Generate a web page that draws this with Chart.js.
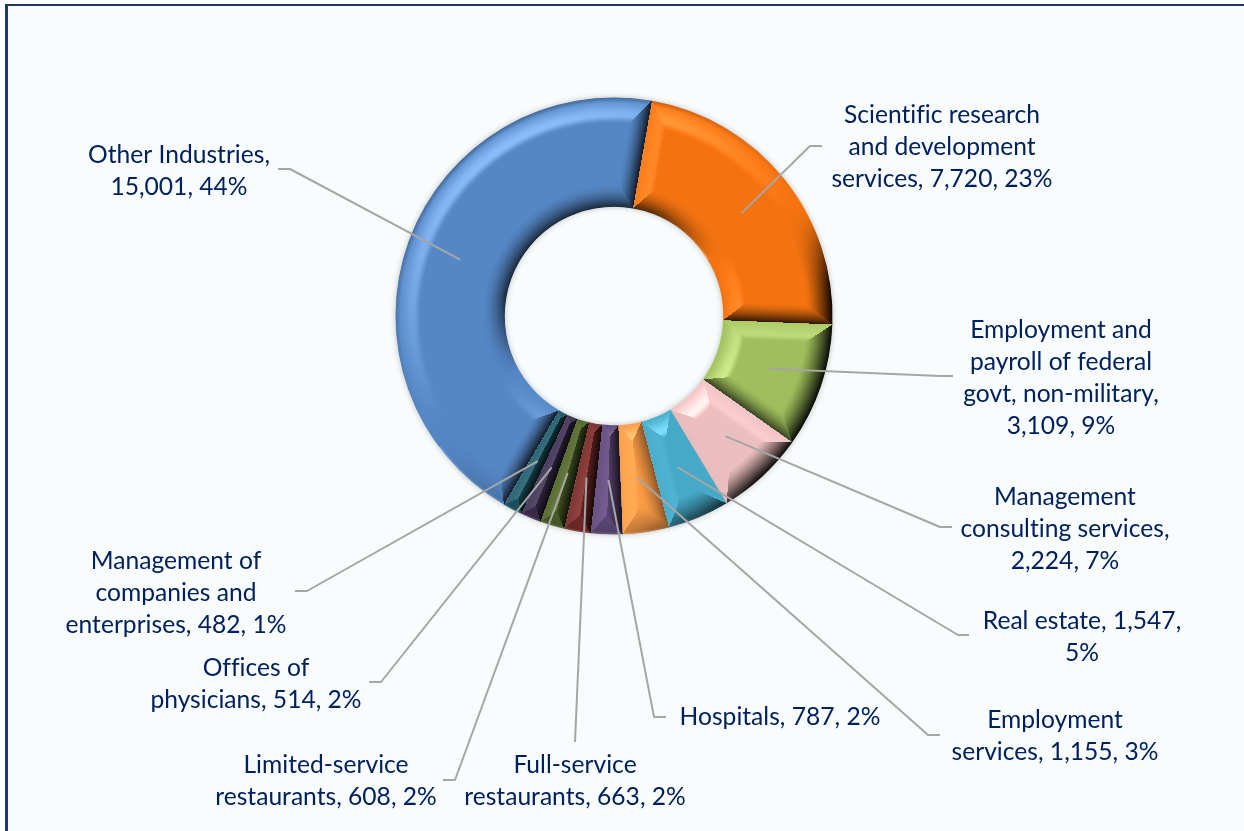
<!DOCTYPE html>
<html>
<head>
<meta charset="utf-8">
<title>Employment by industry</title>
<script src="https://cdn.jsdelivr.net/npm/chart.js@4"></script>
<style>
  html, body { margin: 0; padding: 0; background: #fff; overflow: hidden; }
  #panel {
    position: absolute; left: 5px; top: 4px; right: 0; bottom: 0;
    background: #f8fcfd;
    border-left: 3px solid #1f3864;
    border-top: 2px solid #1f3864;
  }
  #chart { position: absolute; left: 0; top: 0; }
</style>
</head>
<body>
<div id="panel"></div>
<canvas id="chart" width="1244" height="831"></canvas>
<script>
// values
const categories = [
  'Scientific research and development services',
  'Employment and payroll of federal govt, non-military',
  'Management consulting services',
  'Real estate',
  'Employment services',
  'Hospitals',
  'Full-service restaurants',
  'Limited-service restaurants',
  'Offices of physicians',
  'Management of companies and enterprises',
  'Other Industries',
];
const jobs = [7720, 3109, 2224, 1547, 1155, 787, 663, 608, 514, 482, 15001];

const labelLines = [
  ['Scientific research', 'and development', 'services, 7,720, 23%'],
  ['Employment and', 'payroll of federal', 'govt, non-military,', '3,109, 9%'],
  ['Management', 'consulting services,', '2,224, 7%'],
  ['Real estate, 1,547,', '5%'],
  ['Employment', 'services, 1,155, 3%'],
  ['Hospitals, 787, 2%'],
  ['Full-service', 'restaurants, 663, 2%'],
  ['Limited-service', 'restaurants, 608, 2%'],
  ['Offices of', 'physicians, 514, 2%'],
  ['Management of', 'companies and', 'enterprises, 482, 1%'],
  ['Other Industries,', '15,001, 44%'],
];

const sliceColors = ['#f47310', '#9fbf5c', '#ebbfbf', '#45aac8', '#f99a45', '#5f497a',
  '#772c2a', '#4f6228', '#3f3151', '#205867', '#5587c6'];

// label layout: centre x and first line centre y of each label
const labelX = [942, 1061, 1065, 1082, 1055, 780, 575, 326, 256, 176, 179];
const labelY = [115.5, 330.5, 497.5, 621.5, 720.5, 717.5, 765.5, 765.5, 668.5, 561.5, 155.5];
// leader lines: elbow and end point
const elbowX = [810, 940, 940, 958, 928, 654, 575, 455, 381, 307, 290];
const elbowY = [146, 376, 527, 635, 735, 717, 742, 780, 682, 591, 169];
const endX = [822, 953, 952, 969, 940, 666, 575, 443, 369, 295, 278];

const lineHeight = 32;
const lightX = -0.5, lightY = -0.85;

function smooth(t) { return t * t * (3 - 2 * t); }
function clamp01(t) { return Math.min(1, Math.max(0, t)); }

// ring shadow goes under the slices
const ringShadow = {
  id: 'ringShadow',
  beforeDatasetsDraw(chart) {
    const arc = chart.getDatasetMeta(0).data[0];
    const ctx = chart.ctx;
    ctx.save();
    ctx.shadowColor = 'rgba(0,0,0,0.28)';
    ctx.shadowBlur = 6;
    ctx.fillStyle = '#888';
    ctx.beginPath();
    ctx.arc(arc.x, arc.y, arc.outerRadius - 0.5, 0, Math.PI * 2);
    ctx.arc(arc.x, arc.y, arc.innerRadius + 0.5, 0, Math.PI * 2, true);
    ctx.fill('evenodd');
    ctx.restore();
  },
};

// bevel look: shades the pixels of the slices the library has just drawn
const bevel = {
  id: 'bevel',
  afterDatasetsDraw(chart) {
    const arcs = chart.getDatasetMeta(0).data;
    const cx = arcs[0].x, cy = arcs[0].y;
    const R = arcs[0].outerRadius, r0 = arcs[0].innerRadius;
    const ctx = chart.ctx;
    const left = Math.floor(cx - R - 1), top = Math.floor(cy - R - 1);
    const size = Math.ceil(2 * R + 2);
    const img = ctx.getImageData(left, top, size, size);
    const px = img.data;
    const wOuter = 26, wInner = 24, wSide = 19;
    const twoPi = Math.PI * 2;

    for (let y = 0; y < size; y++) {
      for (let x = 0; x < size; x++) {
        const dx = left + x + 0.5 - cx, dy = top + y + 0.5 - cy;
        const r = Math.sqrt(dx * dx + dy * dy);
        if (r > R + 0.5 || r < r0 - 0.5) continue;
        const ang = Math.atan2(dy, dx);

        let arc = null, fromStart = 0, toEnd = 0;
        for (const a of arcs) {
          const span = a.endAngle - a.startAngle;
          const off = ((ang - a.startAngle) % twoPi + twoPi) % twoPi;
          if (off <= span) { arc = a; fromStart = off; toEnd = span - off; break; }
        }
        if (!arc) continue;

        const dOut = Math.max(R - r, 0), dIn = Math.max(r - r0, 0);
        const dS = fromStart > Math.PI / 2 ? 1e4 : r * Math.sin(fromStart);
        const dE = toEnd > Math.PI / 2 ? 1e4 : r * Math.sin(toEnd);

        // nearest edge decides the facet, which gives the mitred corners
        let t = dOut / wOuter, nx = dx / r, ny = dy / r, kind = 0;
        if (dIn / wInner < t) { t = dIn / wInner; nx = -dx / r; ny = -dy / r; kind = 1; }
        if (dS / wSide < t) { t = dS / wSide; nx = Math.sin(arc.startAngle); ny = -Math.cos(arc.startAngle); kind = 2; }
        if (dE / wSide < t) { t = dE / wSide; nx = -Math.sin(arc.endAngle); ny = Math.cos(arc.endAngle); kind = 2; }
        if (t >= 1) continue;

        const lam = nx * lightX + ny * lightY;
        let add = 0, dark = 0;
        if (lam > 0) {
          // highlight peaks inside the bevel and stops fairly hard on the flat part
          const base = kind === 2 ? 0.5 : 0.15;
          const bump = t < 0.68 ? base + (1 - base) * smooth(t / 0.68) : 1 - smooth((t - 0.68) / 0.32);
          add = (kind === 2 ? 34 : 54) * lam * bump;
          // thin dark rim on the very edge
          if (kind === 0 && dOut < 5) dark = 0.28 * lam * (1 - dOut / 5);
        } else if (kind === 0) {
          // outer edge: only the right hand side goes really dark, bottom stays soft
          const strength = Math.min(0.95, 0.16 + Math.max(nx, 0) * 1.2) * smooth(clamp01(-lam / 0.45));
          dark = strength * Math.pow(1 - t, 1.3);
          if (ny > 0.6 && dOut < 2.5) add = 40 * (1 - dOut / 2.5);
        } else if (kind === 1) {
          const strength = Math.min(0.7, -lam * 1.1);
          dark = strength * Math.pow(1 - t, 1.8);
          if (nx < -0.2 && dIn < 2.5) add = 30 * (1 - dIn / 2.5);
        } else {
          const strength = Math.min(0.8, -lam * 1.6);
          dark = strength * Math.pow(1 - t, 1.5);
        }
        const i = (y * size + x) * 4;
        for (let c = 0; c < 3; c++) {
          px[i + c] = (px[i + c] + add) * (1 - dark);
        }
      }
    }
    ctx.putImageData(img, left, top);
  },
};

// leader lines and the wrapped labels
const outLabels = {
  id: 'outLabels',
  afterDraw(chart) {
    const ctx = chart.ctx;
    const arcs = chart.getDatasetMeta(0).data;
    ctx.save();
    ctx.strokeStyle = '#a6a6a6';
    ctx.lineWidth = 2;
    ctx.lineJoin = 'round';
    arcs.forEach((arc, i) => {
      const p = arc.tooltipPosition();
      ctx.beginPath();
      ctx.moveTo(p.x, p.y);
      ctx.lineTo(elbowX[i], elbowY[i]);
      ctx.lineTo(endX[i], elbowY[i]);
      ctx.stroke();
    });
    ctx.fillStyle = '#002060';
    ctx.font = '24.6px Lato';
    ctx.letterSpacing = '0.01px'; // stops the fi ligature
    ctx.textAlign = 'center';
    ctx.textBaseline = 'middle';
    labelLines.forEach((lines, i) => {
      lines.forEach((line, j) => {
        ctx.fillText(line, labelX[i], labelY[i] + j * lineHeight);
      });
    });
    ctx.restore();
  },
};

new Chart(document.getElementById('chart'), {
  type: 'doughnut',
  data: {
    labels: categories,
    datasets: [{
      data: jobs,
      backgroundColor: sliceColors,
      borderWidth: 0,
    }],
  },
  options: {
    responsive: false,
    animation: false,
    rotation: 10,
    cutout: '50%',
    layout: { padding: { left: 395.5, right: 411.5, top: 97.5, bottom: 296.5 } },
    plugins: { legend: { display: false }, tooltip: { enabled: false } },
  },
  plugins: [ringShadow, bevel, outLabels],
});
</script>
</body>
</html>
